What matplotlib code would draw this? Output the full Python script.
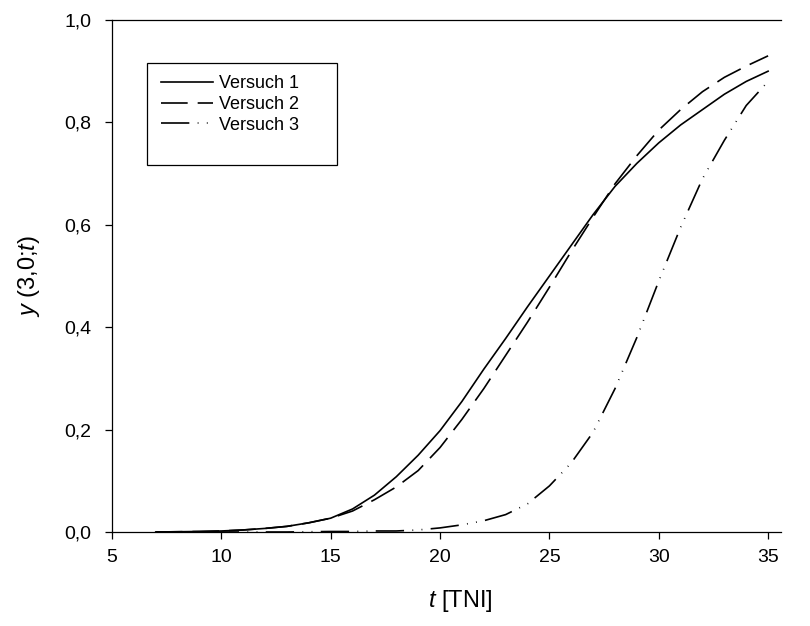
import matplotlib
matplotlib.use("Agg")
import matplotlib.pyplot as plt
from matplotlib.patches import Rectangle

plt.rcParams['font.family'] = ['Liberation Sans', 'DejaVu Sans']
plt.rcParams['mathtext.fontset'] = 'custom'
plt.rcParams['mathtext.rm'] = 'Liberation Sans'
plt.rcParams['mathtext.it'] = 'Liberation Sans:italic'

# values
t = [7, 8, 9, 10, 11, 12, 13, 14, 15, 16, 17, 18, 19, 20, 21,
     22, 23, 24, 25, 26, 27, 28, 29, 30, 31, 32, 33, 34, 35]
versuch1 = [0.0, 0.0005, 0.001, 0.002, 0.004, 0.007, 0.011, 0.018, 0.027, 0.045,
            0.072, 0.108, 0.15, 0.198, 0.255, 0.318, 0.378, 0.44, 0.50, 0.56,
            0.62, 0.675, 0.72, 0.76, 0.795, 0.825, 0.855, 0.88, 0.90]
versuch2 = [0.0, 0.0005, 0.001, 0.002, 0.004, 0.007, 0.011, 0.018, 0.027, 0.041,
            0.063, 0.088, 0.12, 0.165, 0.22, 0.28, 0.345, 0.41, 0.478, 0.548,
            0.615, 0.68, 0.735, 0.785, 0.825, 0.86, 0.888, 0.91, 0.93]
versuch3 = [0.0, 0.0, 0.0, 0.0, 0.0, 0.0, 0.0, 0.0005, 0.001, 0.001,
            0.002, 0.002, 0.004, 0.008, 0.014, 0.022, 0.034, 0.055, 0.09, 0.135,
            0.195, 0.28, 0.38, 0.49, 0.595, 0.69, 0.765, 0.833, 0.88]
labels = ['Versuch 1', 'Versuch 2', 'Versuch 3']
xticks = [5, 10, 15, 20, 25, 30, 35]
yticks = [0.0, 0.2, 0.4, 0.6, 0.8, 1.0]
yticklabels = ['0,0', '0,2', '0,4', '0,6', '0,8', '1,0']

fig = plt.figure(figsize=(8.1, 6.26), dpi=100)
ax = fig.add_axes([112 / 810, 94 / 626, 669 / 810, 512 / 626])

lw = 1.2
l1, = ax.plot(t, versuch1, color='black', lw=lw, linestyle='-')
l2, = ax.plot(t, versuch2, color='black', lw=lw, linestyle=(0, (16, 6)))
l3, = ax.plot(t, versuch3, color='black', lw=lw, linestyle=(0, (17, 5, 0.5, 5, 0.5, 5)))

ax.set_xlim(5, 35.59)
ax.set_ylim(0, 1.0)
ax.set_xticks(xticks)
ax.set_yticks(yticks)
ax.set_yticklabels(yticklabels)
ax.tick_params(axis='both', direction='out', length=5, width=0.9, labelsize=14)
ax.tick_params(axis='y', pad=10)
ax.tick_params(axis='x', pad=7)
ax.spines['right'].set_visible(False)
for s in ['left', 'bottom', 'top']:
    ax.spines[s].set_linewidth(0.9)

ax.set_xlabel(r'$t$ [TNI]', fontsize=17)
ax.set_ylabel(r'$y$ (3,0;$t$)', fontsize=17)
ax.xaxis.set_label_coords(0.52, -0.11)
ax.yaxis.set_label_coords(-0.105, 0.5)

# legend box drawn by hand to match proportions
fig.patches.append(Rectangle((147 / 810, 1 - 165 / 626), 190 / 810, 102 / 626,
                             transform=fig.transFigure, fill=False,
                             edgecolor='black', lw=0.9))
fig.legend([l1, l2, l3], labels, loc='upper left',
           bbox_to_anchor=(156 / 810, 1 - 70 / 626), frameon=False,
           fontsize=13, handlelength=2.85, handletextpad=0.35,
           labelspacing=0.2, borderaxespad=0, borderpad=0.3)

fig.savefig('out.png', dpi=100)
